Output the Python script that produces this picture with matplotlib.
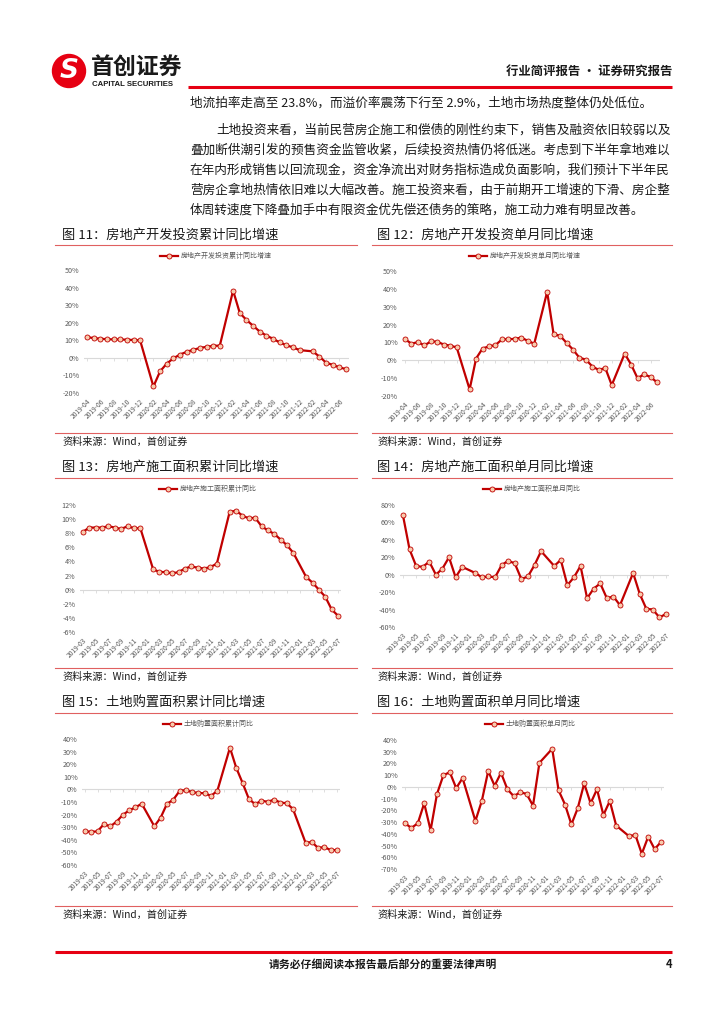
import numpy as np
import matplotlib
matplotlib.use('Agg')
import matplotlib.pyplot as plt
from matplotlib.patches import Circle

plt.rcParams['font.family'] = ['Noto Sans CJK SC', 'DejaVu Sans']

W, H = 724, 1024
nan = np.nan


def month_range(y0, m0, y1, m1):
    out = []
    y, m = y0, m0
    while (y, m) <= (y1, m1):
        out.append(f'{y}-{m:02d}')
        m += 1
        if m > 12:
            y, m = y + 1, 1
    return out


# categories (January has no data -> gap that the line bridges)
cats_apr = month_range(2019, 4, 2022, 7)
cats_mar = month_range(2019, 3, 2022, 7)

# 图11 房地产开发投资累计同比
inv_cum = [11.9, 11.2, 10.9, 10.6, 10.5, 10.5, 10.3, 10.2, 9.9,
           nan, -16.3, -7.7, -3.3, -0.3, 1.9, 3.4, 4.6, 5.6, 6.3, 6.8, 7.0,
           nan, 38.3, 25.6, 21.6, 18.3, 15.0, 12.7, 10.9, 8.8, 7.2, 6.0, 4.4,
           nan, 3.7, 0.7, -2.7, -4.0, -5.4, -6.4]
# 图12 房地产开发投资单月同比
inv_month = [11.8, 9.3, 10.2, 8.3, 10.6, 10.4, 8.8, 8.2, 7.2,
             nan, -16.3, 1.0, 6.6, 7.8, 8.5, 11.7, 11.8, 12.0, 12.7, 10.9, 9.3,
             nan, 38.3, 14.6, 13.7, 9.8, 6.0, 1.4, 0.4, -3.5, -5.4, -4.3, -13.9,
             nan, 3.7, -2.4, -10.1, -7.8, -9.4, -12.3]
# 图13 房地产施工面积累计同比
cons_cum = [8.2, 8.8, 8.8, 8.8, 9.0, 8.8, 8.6, 9.0, 8.7, 8.7,
            nan, 2.9, 2.5, 2.5, 2.3, 2.5, 3.0, 3.3, 3.1, 3.0, 3.2, 3.7,
            nan, 11.0, 11.2, 10.5, 10.1, 10.2, 9.0, 8.4, 7.9, 7.1, 6.3, 5.2,
            nan, 1.8, 1.0, 0.0, -1.0, -2.8, -3.7]
# 图14 房地产施工面积单月同比
cons_month = [68, 29, 10, 9, 15, 0, 7, 20, -3, 9,
              nan, 2, -3, -2, -3, 11, 16, 13, -5, -2, 11, 27,
              nan, 10, 17, -12, -3, 10, -27, -16, -10, -27, -25, -35,
              nan, 2, -22, -39, -40, -49, -45]
# 图15 土地购置面积累计同比
land_cum = [-33.1, -33.8, -33.2, -27.5, -29.4, -25.6, -20.2, -16.7, -14.2, -11.4,
            nan, -29.3, -22.4, -11.5, -8.2, -1.3, -0.5, -2.2, -2.8, -3.1, -5.1, -1.1,
            nan, 33.1, 17.1, 5.2, -7.5, -11.8, -8.9, -9.9, -8.1, -10.4, -11.0, -15.5,
            nan, -42.3, -41.8, -46.5, -45.7, -48.3, -48.1]
# 图16 土地购置面积单月同比
land_month = [-31, -35, -31, -14, -37, -6, 10, 12.5, -1, 7.5,
              nan, -29, -12, 13.5, 1, 12, -2, -8, -4.5, -6, -16, 20.5,
              nan, 32.5, -3, -15, -32, -18, 3, -14, -2, -24, -12, -33,
              nan, -42, -41, -57, -42.5, -53, -47]

titles = ['图 11：房地产开发投资累计同比增速', '图 12：房地产开发投资单月同比增速',
          '图 13：房地产施工面积累计同比增速', '图 14：房地产施工面积单月同比增速',
          '图 15：土地购置面积累计同比增速', '图 16：土地购置面积单月同比增速']
legends = ['房地产开发投资累计同比增速', '房地产开发投资单月同比增速',
           '房地产施工面积累计同比', '房地产施工面积单月同比',
           '土地购置面积累计同比', '土地购置面积单月同比']
yticks_all = [list(range(-20, 51, 10)), list(range(-20, 51, 10)),
              list(range(-6, 13, 2)), list(range(-60, 81, 20)),
              list(range(-60, 41, 10)), list(range(-70, 41, 10))]
series = [inv_cum, inv_month, cons_cum, cons_month, land_cum, land_month]
cats_all = [cats_apr, cats_apr, cats_mar, cats_mar, cats_mar, cats_mar]

body = ['地流拍率走高至 23.8%，而溢价率震荡下行至 2.9%，土地市场热度整体仍处低位。',
        '土地投资来看，当前民营房企施工和偿债的刚性约束下，销售及融资依旧较弱以及',
        '叠加断供潮引发的预售资金监管收紧，后续投资热情仍将低迷。考虑到下半年拿地难以',
        '在年内形成销售以回流现金，资金净流出对财务指标造成负面影响，我们预计下半年民',
        '营房企拿地热情依旧难以大幅改善。施工投资来看，由于前期开工增速的下滑、房企整',
        '体周转速度下降叠加手中有限资金优先偿还债务的策略，施工动力难有明显改善。']

RED = '#C00000'
BRIGHT = '#E60012'
PEACH = '#F8CBAD'
GREY = '#595959'

fig = plt.figure(figsize=(W / 100, H / 100), dpi=100)
bg = fig.add_axes([0, 0, 1, 1])
bg.set_xlim(0, W)
bg.set_ylim(H, 0)
bg.axis('off')

# header
bg.add_patch(Circle((69, 71), 16.5, color=BRIGHT))
bg.text(69, 71, 'S', color='white', fontsize=19, fontweight='bold', style='italic',
        ha='center', va='center', family='DejaVu Sans')
bg.text(91, 67, '首创证券', fontsize=16.5, fontweight='bold', color='#1a1a1a', va='center')
bg.text(92, 84, 'CAPITAL SECURITIES', fontsize=5.6, fontweight='bold', color='#1a1a1a',
        va='center', family='Liberation Sans')
bg.plot([188, 672], [87, 87], color=BRIGHT, lw=2.2, solid_capstyle='butt')
bg.text(672, 71, '行业简评报告 · 证券研究报告', fontsize=8.9, fontweight='bold',
        ha='right', va='center', color='#1a1a1a')

# body text
body_y = [103, 130, 150, 170, 190, 210]
for i, (line, y) in enumerate(zip(body, body_y)):
    x = 216 if i == 1 else 190
    bg.text(x, y, line, fontsize=9.1, va='center', color='#1a1a1a')

# chart frames
rows = [(235, 245, 433, 442), (467, 478, 668, 677), (703, 713, 906, 915)]
for (ty, uy, by, sy) in rows:
    for tx, x0, x1 in [(62, 55, 357), (377, 372, 672)]:
        bg.plot([x0, x1], [uy, uy], color='#E06060', lw=0.8)
        bg.plot([x0, x1], [by, by], color='#E06060', lw=0.8)
        bg.text(tx, sy, '资料来源：Wind，首创证券', fontsize=7.3, va='center', color='#1a1a1a')
for k, t in enumerate(titles):
    ty = rows[k // 2][0]
    tx = 62 if k % 2 == 0 else 377
    bg.text(tx, ty, t, fontsize=9.5, va='center', color='#1a1a1a')

# footer
bg.plot([55, 672], [952, 952], color=BRIGHT, lw=2.2, solid_capstyle='butt')
bg.text(383, 964, '请务必仔细阅读本报告最后部分的重要法律声明', fontsize=7.8, fontweight='bold',
        ha='center', va='center', color='#1a1a1a')
bg.text(672, 964, '4', fontsize=8, fontweight='bold', ha='right', va='center', color='#1a1a1a')

# plot boxes (left, top, right, bottom) in pixels and legend centres
boxes = [(83.7, 270, 349.3, 393), (401.8, 271, 660.2, 396),
         (79.8, 505, 341.2, 632), (399.7, 505, 669.3, 627),
         (81.9, 739, 340.2, 865), (401.8, 740, 664.2, 869)]
leg_pos = [(216, 256), (525, 256), (208, 489), (532, 489), (208, 724), (530, 724)]

for k in range(6):
    l, t, r, b = boxes[k]
    ax = fig.add_axes([l / W, 1 - b / H, (r - l) / W, (b - t) / H])
    ax.patch.set_alpha(0)
    cats = cats_all[k]
    v = np.array(series[k], dtype=float)
    x = np.arange(len(cats))
    ok = ~np.isnan(v)
    yt = yticks_all[k]
    ax.axhline(0, color='#D9D9D9', lw=0.8, zorder=1)
    tick_idx = x[::2]
    ax.plot(tick_idx, np.zeros(len(tick_idx)), ls='none', marker=3, ms=2.5, mew=0.6,
            color='#D9D9D9', zorder=1)
    ax.plot(x[ok], v[ok], color=RED, lw=1.6, marker='o', ms=3.6, mfc=PEACH, mec=RED,
            mew=0.6, label=legends[k], zorder=3, clip_on=False)
    ax.set_xlim(-0.5, len(cats) - 0.5)
    ax.set_ylim(yt[0], yt[-1])
    ax.set_xticks(tick_idx)
    ax.set_xticklabels([cats[i] for i in tick_idx], rotation=45, ha='right',
                       rotation_mode='anchor', fontsize=4.8, color=GREY)
    ax.set_yticks(yt)
    ax.set_yticklabels([f'{t}%' for t in yt], fontsize=5.2, color=GREY)
    ax.tick_params(length=0)
    ax.tick_params(axis='x', pad=3)
    ax.tick_params(axis='y', pad=3)
    for s in ax.spines.values():
        s.set_visible(False)
    cx, cy = leg_pos[k]
    ax.legend(loc='center', bbox_to_anchor=(cx / W, 1 - cy / H), bbox_transform=fig.transFigure,
              frameon=False, fontsize=5, labelcolor=GREY, handlelength=2.6,
              handletextpad=0.4, borderpad=0)

fig.savefig('out.png', dpi=100)
